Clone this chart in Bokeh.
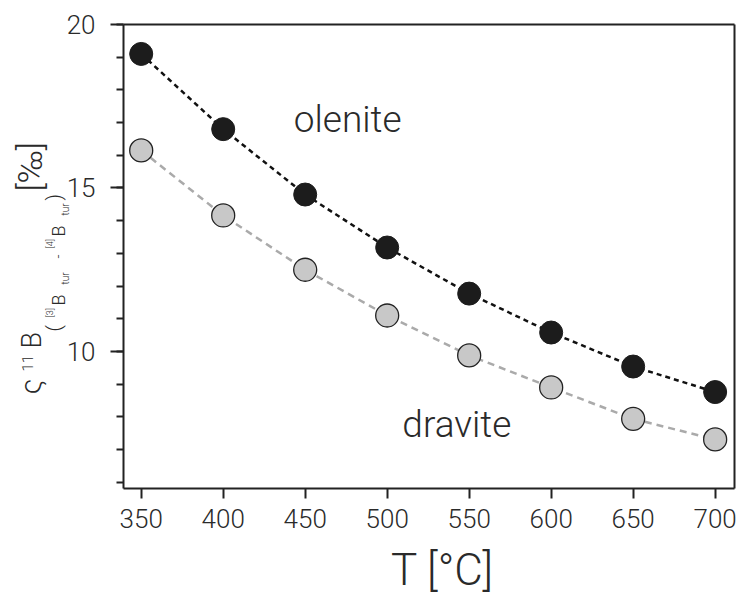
import math
from bokeh.plotting import figure
from bokeh.models import Range1d, Label, FixedTicker, ColumnDataSource, LinearAxis
from bokeh.embed import file_html
from bokeh.resources import INLINE

# ---- data ----
temperature = [350, 400, 450, 500, 550, 600, 650, 700]
olenite = [19.10, 16.80, 14.80, 13.18, 11.77, 10.58, 9.54, 8.76]
dravite = [16.15, 14.16, 12.50, 11.10, 9.88, 8.90, 7.94, 7.31]
x_ticks = [350, 400, 450, 500, 550, 600, 650, 700]
y_ticks = [10, 15, 20]
y_minor_ticks = list(range(6, 21))

# visible box of the axes (data units)
X_LO, X_HI = 339.2, 711.8
Y_LO, Y_HI = 5.81, 20.0

# pixel layout: the plotting frame fills the whole canvas, the axes box sits inside it
W, H = 737, 598
BOX_L, BOX_R, BOX_T, BOX_B = 123, 734, 24, 488
kx = (BOX_R - BOX_L) / (X_HI - X_LO)
ky = (BOX_B - BOX_T) / (Y_HI - Y_LO)
x_range = Range1d(X_LO - BOX_L / kx, X_HI + (W - BOX_R) / kx)
y_range = Range1d(Y_LO - (H - BOX_B) / ky, Y_HI + BOX_T / ky)

FONT = "Roboto Light"
TXT = "#2a2a2a"
AX = "#222222"

p = figure(width=W, height=H, output_backend="svg", toolbar_location=None,
           x_range=x_range, y_range=y_range,
           x_axis_location=None, y_axis_location=None,
           min_border_left=0, min_border_right=0, min_border_top=0, min_border_bottom=0)
p.grid.visible = False
p.background_fill_color = "white"
p.border_fill_color = "white"
p.outline_line_color = None

src = ColumnDataSource(dict(t=temperature, ol=olenite, dr=dravite))

p.line("t", "ol", source=src, line_color="#111111", line_width=2.5, line_dash="5 4")
p.line("t", "dr", source=src, line_color="#aaaaaa", line_width=2.5, line_dash="7 5")
p.scatter("t", "dr", source=src, size=23, fill_color="#c8c8c8", line_color="#222222", line_width=1.3)
p.scatter("t", "ol", source=src, size=23, fill_color="#1c1c1c", line_color="#1c1c1c", line_width=1)

yax = LinearAxis(fixed_location=X_LO, bounds=(Y_LO, Y_HI),
                 ticker=FixedTicker(ticks=y_ticks, minor_ticks=y_minor_ticks))
p.add_layout(yax, "left")
xax = LinearAxis(fixed_location=Y_LO, bounds=(X_LO, X_HI), ticker=FixedTicker(ticks=x_ticks))
p.add_layout(xax, "below")

for ax in (xax, yax):
    ax.axis_line_color = AX
    ax.axis_line_width = 2
    ax.major_tick_line_color = AX
    ax.major_tick_line_width = 2
    ax.minor_tick_line_color = AX
    ax.minor_tick_line_width = 2
    ax.major_tick_in = 0
    ax.minor_tick_in = 0
    ax.major_label_text_font = FONT
    ax.major_label_text_font_size = "26px"
    ax.major_label_text_color = TXT

xax.major_label_standoff = 10
xax.major_tick_out = 10
xax.minor_tick_out = 0
yax.major_label_standoff = 15
yax.major_tick_out = 13
yax.minor_tick_out = 7

# top and right edges of the box
top_ax = LinearAxis(fixed_location=Y_HI, bounds=(X_LO, X_HI), ticker=FixedTicker(ticks=[]),
                    major_tick_out=0, minor_tick_out=0, major_label_text_font_size="0px",
                    axis_line_color=AX, axis_line_width=2)
p.add_layout(top_ax, "above")
right_ax = LinearAxis(fixed_location=X_HI, bounds=(Y_LO, Y_HI), ticker=FixedTicker(ticks=[]),
                      major_tick_out=0, minor_tick_out=0, major_label_text_font_size="0px",
                      axis_line_color=AX, axis_line_width=2)
p.add_layout(right_ax, "right")

SHIFT = 0.35  # alphabetic anchor correction (em)

# x-axis title
p.add_layout(Label(x=442, y=H - (585 - SHIFT * 44), x_units="screen", y_units="screen",
                   text="T [°C]", text_align="center", text_baseline="alphabetic",
                   text_font=FONT, text_font_size="44px", text_color=TXT))

# in-plot labels
p.add_layout(Label(x=475.9, y=17.10, text="olenite", text_align="center", text_baseline="alphabetic",
                   text_font=FONT, text_font_size="37px", text_color=TXT))
p.add_layout(Label(x=542.5, y=7.77, text="dravite", text_align="center", text_baseline="alphabetic",
                   text_font=FONT, text_font_size="37px", text_color=TXT))

# composite rotated y-axis title: (text, font px, baseline x, start y from top)
pieces = [
    ("ς", 30, 40, 394),
    ("11", 15, 32, 371),
    ("B", 27, 41, 348),
    ("(", 20, 60, 331),
    ("[3]", 9, 53, 317),
    ("B", 18, 64, 305),
    ("tur", 10, 68, 284),
    ("-", 14, 62, 258),
    ("[4]", 9, 53, 248),
    ("B", 18, 64, 236),
    ("tur", 10, 68, 215),
    (")", 20, 60, 200),
    ("[‰]", 34, 41, 191),
]
for txt, size, bx, sy in pieces:
    p.add_layout(Label(x=bx - SHIFT * size, y=H - sy, x_units="screen", y_units="screen",
                       text=txt, angle=math.pi / 2, text_align="left", text_baseline="alphabetic",
                       text_font=FONT, text_font_size=f"{size}px", text_color=TXT))

open("out.html", "w").write(file_html(p, INLINE))
